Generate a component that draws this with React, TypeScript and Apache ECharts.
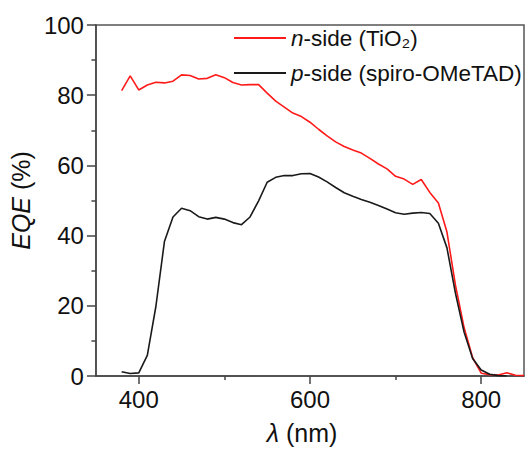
import React, { useEffect, useRef } from "react";
import * as echarts from "echarts";

const wavelengths = [
  380, 390, 400, 410, 420, 430, 440, 450, 460, 470, 480, 490, 500, 510, 520, 530,
  540, 550, 560, 570, 580, 590, 600, 610, 620, 630, 640, 650, 660, 670, 680, 690,
  700, 710, 720, 730, 740, 750, 760, 770, 780, 790, 800, 810, 820, 830, 840, 850,
];
const nSide = [
  81.3, 85.5, 81.5, 82.9, 83.7, 83.5, 84.0, 85.8, 85.6, 84.6, 84.8, 85.8, 85.0, 83.6, 82.9, 83.0,
  83.0, 80.6, 78.3, 76.6, 74.9, 73.9, 72.3, 70.3, 68.4, 66.7, 65.4, 64.4, 63.5, 62.0, 60.4, 59.0,
  56.9, 56.1, 54.6, 56.0, 52.3, 49.3, 41.0, 25.8, 13.8, 5.2, 0.8, 0.4, 0.3, 0.9, 0.2, 0.1,
];
const pSide = [
  1.2, 0.7, 0.9, 5.9, 19.8, 38.3, 45.3, 47.8, 47.1, 45.4, 44.7, 45.2, 44.7, 43.7, 43.1, 45.3,
  49.9, 55.2, 56.6, 57.1, 57.1, 57.6, 57.7, 56.7, 55.3, 53.7, 52.2, 51.2, 50.3, 49.5, 48.6, 47.6,
  46.5, 46.1, 46.4, 46.6, 46.3, 43.5, 36.5, 23.5, 12.5, 5.0, 1.7, 0.5, 0.1, 0.0, null, null,
];
const xMajorTicks = [400, 600, 800];
const xMinorTicks = [500, 700];
const seriesNames = ["n-side (TiO₂)", "p-side (spiro-OMeTAD)"];

export default function App() {
  const ref = useRef<HTMLDivElement>(null);
  useEffect(() => {
    const chart = echarts.init(ref.current!, null, { renderer: "svg" });
    const font = "'Liberation Sans', Arial, sans-serif";
    const axisColor = "#444";
    const pair = (vals: (number | null)[]) =>
      wavelengths
        .map((w, i) => [w, vals[i]])
        .filter((d) => d[1] !== null);
    chart.setOption({
      animation: false,
      grid: {
        left: 91,
        right: 1,
        top: 25,
        bottom: 69,
        show: true,
        borderColor: "#555",
        borderWidth: 1.5,
      },
      legend: {
        orient: "vertical",
        left: 229,
        top: 20,
        itemWidth: 52,
        itemHeight: 2,
        itemGap: 9,
        icon: "rect",
        data: seriesNames,
        formatter: (name: string) =>
          name === seriesNames[0]
            ? "{i|n}-side (TiO₂)"
            : "{i|p}-side (spiro-OMeTAD)",
        textStyle: {
          fontFamily: font,
          fontSize: 22.5,
          color: "#111",
          lineHeight: 26,
          rich: {
            i: { fontStyle: "italic", fontFamily: font, fontSize: 22.5, lineHeight: 26, color: "#111" },
          },
        },
      },
      xAxis: [
        {
          type: "value",
          min: 350,
          max: 850,
          position: "bottom",
          name: "{i|λ} (nm)",
          nameLocation: "middle",
          nameGap: 44,
          nameTextStyle: {
            fontFamily: font,
            fontSize: 25,
            color: "#111",
            padding: [0, 16, 0, 0],
            rich: { i: { fontStyle: "italic", fontFamily: font, fontSize: 25, color: "#111" } },
          },
          axisLine: { show: true, lineStyle: { color: axisColor, width: 1.5 } },
          axisTick: {
            show: true,
            customValues: xMajorTicks,
            length: 8,
            lineStyle: { color: axisColor, width: 1.5 },
          },
          axisLabel: {
            customValues: xMajorTicks,
            fontFamily: font,
            fontSize: 24,
            color: "#111",
            margin: 11,
          },
          splitLine: { show: false },
        },
        {
          type: "value",
          min: 350,
          max: 850,
          position: "bottom",
          axisLine: { show: false },
          axisTick: {
            show: true,
            customValues: xMinorTicks,
            length: 4,
            lineStyle: { color: axisColor, width: 1.5 },
          },
          axisLabel: { show: false },
          splitLine: { show: false },
        },
      ],
      yAxis: {
        type: "value",
        min: 0,
        max: 100,
        interval: 20,
        name: "{i|EQE} (%)",
        nameLocation: "middle",
        nameGap: 50,
        nameTextStyle: {
          fontFamily: font,
          fontSize: 25,
          color: "#111",
          rich: { i: { fontStyle: "italic", fontFamily: font, fontSize: 25, color: "#111" } },
        },
        axisLine: { show: true, lineStyle: { color: axisColor, width: 1.5 } },
        axisTick: { show: true, length: 9, lineStyle: { color: axisColor, width: 1.5 } },
        minorTick: { show: true, splitNumber: 2, length: 4.5, lineStyle: { color: axisColor, width: 1.5 } },
        axisLabel: { fontFamily: font, fontSize: 24, color: "#111", margin: 12 },
        splitLine: { show: false },
      },
      series: [
        {
          name: seriesNames[0],
          type: "line",
          data: pair(nSide),
          showSymbol: false,
          symbol: "none",
          lineStyle: { color: "#ff1a1a", width: 1.6 },
          itemStyle: { color: "#ff1a1a" },
        },
        {
          name: seriesNames[1],
          type: "line",
          data: pair(pSide),
          showSymbol: false,
          symbol: "none",
          lineStyle: { color: "#1a1a1a", width: 1.6 },
          itemStyle: { color: "#1a1a1a" },
        },
      ],
    });
    return () => chart.dispose();
  }, []);
  return (
    <div
      ref={ref}
      style={{ position: "absolute", left: 0, top: 0, width: 525, height: 450 }}
    />
  );
}
